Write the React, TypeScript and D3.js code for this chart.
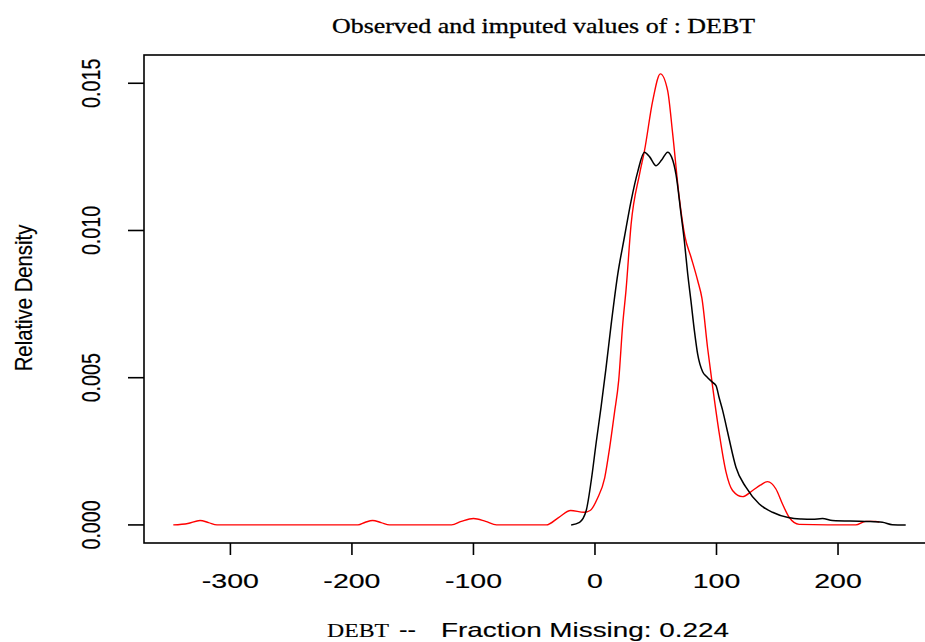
import React from "react";
import * as d3 from "d3";

// ---- data ----
const imputedX = [-347, -335, -325, -318, -311, -195, -189, -183, -176, -169, -118, -110, -100, -90, -81, -40, -30, -20, -9, -4, 2, 8, 12, 16, 19.5, 22.8, 25.6, 29.7, 36.6, 40.7, 47.5, 53.8, 59.8, 63.9, 69.4, 74, 79, 84.5, 88, 92.7, 96.8, 102.3, 107.8, 113.2, 121.4, 129.7, 136, 142, 148.9, 154.3, 159.8, 168, 214.6, 222.8, 231, 234];
const imputedY = [0, 0.00005, 0.00015, 0.00008, 0, 0, 0.00009, 0.00015, 0.00008, 0, 0, 0.00012, 0.00022, 0.00012, 0, 0, 0.00025, 0.00049, 0.00043, 0.00049, 0.0009, 0.0016, 0.0026, 0.0038, 0.0049, 0.0068, 0.008, 0.0102, 0.0119, 0.0127, 0.0144, 0.01532, 0.01475, 0.0133, 0.0111, 0.0098, 0.0091, 0.0083, 0.0077, 0.006, 0.0047, 0.0031, 0.0018, 0.00117, 0.00096, 0.00117, 0.00135, 0.00147, 0.00122, 0.00071, 0.00026, 0.00002, 0, 0.00012, 0.00012, 0.0001];

const observedX = [-19.6, -12.7, -7.2, -3.1, 1, 5, 9, 13.3, 18.7, 24.2, 29.7, 35.2, 40.7, 45, 50.3, 55, 59.8, 63, 66.7, 70.8, 73.5, 76.3, 79, 81.8, 84.5, 88.6, 92, 96.8, 99.6, 102.3, 105, 107.8, 110.5, 116, 124.2, 135.2, 146.1, 159.8, 170, 179, 187.2, 195.4, 222.8, 236.5, 244.7, 255.7];
const observedY = [0, 0.00009, 0.00049, 0.0015, 0.0028, 0.004, 0.0053, 0.0068, 0.0085, 0.00977, 0.011, 0.012, 0.01266, 0.0125, 0.0122, 0.0124, 0.01266, 0.0125, 0.0119, 0.01056, 0.00966, 0.00853, 0.0076, 0.0066, 0.0058, 0.0052, 0.00503, 0.00484, 0.00473, 0.0043, 0.0039, 0.0034, 0.0029, 0.00196, 0.00128, 0.00071, 0.00043, 0.00024, 0.0002, 0.00019, 0.00022, 0.00015, 0.00012, 0.00009, 0.00001, 0];

const xTicks = [-300, -200, -100, 0, 100, 200];
const yTicks = [0, 0.005, 0.01, 0.015];

const titleText = "Observed and imputed values of : DEBT";
const varName = "DEBT";
const xLabelRest = "Fraction Missing: 0.224";
const yLabelText = "Relative Density";

export default function App() {
  const W = 925, H = 642;
  const left = 144, top = 55, right = 935, bottom = 543;
  const x = d3.scaleLinear().domain([-371.1, 279.8]).range([left, right]);
  const y = d3.scaleLinear().domain([-0.000614, 0.01596]).range([bottom, top]);
  const line = d3
    .line<[number, number]>()
    .x((d) => x(d[0]))
    .y((d) => y(d[1]))
    .curve(d3.curveMonotoneX);
  const imputed = imputedX.map((v, i) => [v, imputedY[i]] as [number, number]);
  const observed = observedX.map((v, i) => [v, observedY[i]] as [number, number]);
  const sans = "'Liberation Sans', Arial, sans-serif";
  const serif = "'Liberation Serif', 'Times New Roman', serif";
  const fmt = d3.format(".3f");
  const sx = 1.3;
  const textStroke = { stroke: "#000", strokeWidth: 0.15 };

  return (
    <svg
      width={W}
      height={H}
      style={{ position: "absolute", left: 0, top: 0, background: "#fff" }}
    >
      <rect x={0} y={0} width={W} height={H} fill="#fff" />
      {/* title */}
      <text
        x={332}
        y={33}
        fontFamily={serif}
        fontSize={22}
        textLength={423}
        lengthAdjust="spacingAndGlyphs"
        fill="#000"
        stroke="#000"
        strokeWidth={0.3}
      >
        {titleText}
      </text>

      {/* curves */}
      <path d={line(imputed) || ""} fill="none" stroke="#ff0000" strokeWidth={1.4} />
      <path d={line(observed) || ""} fill="none" stroke="#000" strokeWidth={1.5} />

      {/* box */}
      <rect
        x={left}
        y={top}
        width={right - left}
        height={bottom - top}
        fill="none"
        stroke="#000"
        strokeWidth={1.6}
      />

      {/* x axis */}
      {xTicks.map((t) => (
        <g key={"xt" + t}>
          <line x1={x(t)} x2={x(t)} y1={bottom} y2={bottom + 12} stroke="#000" strokeWidth={1.6} />
          <g transform={`translate(${x(t)},${587.5}) scale(1.36,1)`}>
            <text textAnchor="middle" fontFamily={sans} fontSize={21} fill="#000" {...textStroke}>
              {String(t)}
            </text>
          </g>
        </g>
      ))}

      {/* y axis */}
      {yTicks.map((t) => (
        <g key={"yt" + t}>
          <line x1={left - 16} x2={left} y1={y(t)} y2={y(t)} stroke="#000" strokeWidth={1.6} />
          <g transform={`translate(${100},${y(t)}) scale(${sx},1) rotate(-90)`}>
            <text textAnchor="middle" fontFamily={sans} fontSize={19.7} fill="#000" {...textStroke}>
              {fmt(t)}
            </text>
          </g>
        </g>
      ))}

      {/* y label */}
      <g transform={`translate(${32},${298}) scale(1.2,1) rotate(-90)`}>
        <text textAnchor="middle" fontFamily={sans} fontSize={20.3} fill="#000" {...textStroke}>
          {yLabelText}
        </text>
      </g>

      {/* x label */}
      <text
        x={327}
        y={636.5}
        fontFamily={serif}
        fontSize={19.2}
        textLength={62}
        lengthAdjust="spacingAndGlyphs"
        fill="#000"
        {...textStroke}
      >
        {varName}
      </text>
      <text
        x={399}
        y={636.5}
        fontFamily={sans}
        fontSize={21}
        textLength={17}
        lengthAdjust="spacingAndGlyphs"
        fill="#000"
        {...textStroke}
      >
        --
      </text>
      <text
        x={441}
        y={636.5}
        fontFamily={sans}
        fontSize={21}
        textLength={288}
        lengthAdjust="spacingAndGlyphs"
        fill="#000"
        {...textStroke}
      >
        {xLabelRest}
      </text>
    </svg>
  );
}
